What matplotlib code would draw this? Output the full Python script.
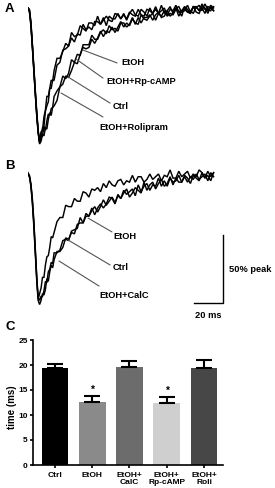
import matplotlib
matplotlib.use('Agg')
import matplotlib.pyplot as plt

plt.rcParams['font.family'] = ['Liberation Sans', 'DejaVu Sans']
plt.rcParams['font.weight'] = 'bold'

W, H, DPI = 275, 488, 100

# ---------------- data: normalised current traces (% of peak) ----------------
time_ms = [0, 1, 2, 3, 4, 5, 6, 7, 8, 9, 10, 11, 12, 13, 14, 15, 16, 17, 18,
           20, 22, 24, 26, 28, 30, 32, 34, 36, 38, 40, 42, 44, 46, 48, 50, 52,
           54, 56, 58, 60, 62, 64, 66, 68, 70, 72, 74, 76, 78, 80, 82, 84, 86,
           88, 90, 92, 94, 96, 98, 100, 102, 104, 106, 108, 110, 112, 114, 116,
           118, 120, 122, 124, 126, 128]

# Panel A
a_etoh = [0, -2, -11, -27, -44, -61, -77, -90, -98,
          -91, -90, -80, -75, -65, -65, -59, -53, -54, -46,
          -37, -37, -32, -26, -28, -18, -21, -20, -13, -15,
          -17, -11, -11, -13, -6, -12, -9, -6, -9, -10,
          -4, -5, -8, -4, -9, -4, -1, -5, -6, -1,
          -3, -6, 0, -4, -1, -4, 2, -4, -2, 1,
          -4, 0, 1, -3, -2, 2, -3, 1, 0, 2,
          -2, 3, -1, -2, 1]
a_rp = [0, -3, -13, -29, -46, -63, -79, -92, -99,
        -96, -88, -87, -76, -72, -69, -59, -59, -53, -53,
        -42, -40, -31, -30, -28, -22, -25, -19, -20, -12,
        -16, -14, -16, -10, -10, -12, -7, -13, -6, -8,
        -8, -4, -8, -5, -8, -3, -5, -6, -1, -5,
        -6, -1, -2, -4, 1, -4, -2, 0, -5, -1,
        -2, 2, -3, -2, 1, -1, -4, 1, 1, -2,
        3, -1, -2, 2, 0]
a_ctrl = [0, -2, -12, -28, -45, -62, -78, -91, -99,
          -95, -94, -87, -90, -83, -78, -79, -74, -73, -65,
          -61, -58, -50, -52, -48, -38, -40, -34, -35, -27,
          -27, -27, -20, -23, -23, -18, -16, -19, -13, -16,
          -15, -17, -11, -11, -14, -12, -7, -12, -7, -11,
          -7, -7, -5, -9, -5, -3, -7, -6, -2, -6,
          -4, 0, -6, -2, -1, -3, -4, 1, -3, -4,
          1, 0, -4, 1, -2]
a_roli = [0, -1, -10, -26, -43, -60, -76, -90, -100,
          -98, -93, -94, -88, -89, -82, -77, -79, -73, -72,
          -68, -58, -56, -50, -51, -46, -40, -41, -34, -29,
          -30, -29, -23, -26, -22, -17, -21, -17, -18, -14,
          -18, -14, -10, -14, -11, -13, -8, -11, -12, -5,
          -8, -9, -6, -4, -9, -4, -6, -2, -6, -4,
          -5, -1, -2, -6, 1, -3, -2, -4, 1, -2,
          0, -4, 1, 0, -2]

# Panel B
b_etoh = [1, -1, -7, -18, -34, -54, -75, -92, -88,
          -84, -76, -76, -67, -61, -60, -54, -46, -47, -43,
          -35, -32, -32, -23, -24, -24, -18, -20, -20, -13,
          -14, -17, -11, -12, -10, -13, -7, -10, -5, -8,
          -9, -5, -4, -8, -5, -6, -1, -6, -2, -2,
          -6, -4, 0, -4, -2, 0, -5, -1, -2, 3,
          -3, -3, 2, -2, 0, 2, -3, 0, -2, 3,
          1, -3, 2, -2, 1]
b_ctrl = [0, -2, -8, -20, -36, -56, -76, -91, -93,
          -90, -90, -86, -79, -80, -72, -70, -65, -66, -58,
          -58, -56, -49, -48, -49, -42, -41, -40, -32, -36,
          -31, -31, -25, -30, -25, -22, -25, -22, -17, -18,
          -22, -15, -18, -14, -11, -17, -14, -10, -12, -14,
          -6, -12, -8, -6, -11, -7, -4, -9, -7, -2,
          -8, -3, -6, -6, -1, -3, -7, -1, -3, -5,
          1, -3, -1, -5, 1]
b_calc = [0, -2, -9, -21, -38, -58, -78, -93, -96,
          -93, -88, -89, -85, -77, -79, -72, -67, -69, -63,
          -57, -57, -54, -47, -48, -43, -44, -37, -36, -36,
          -29, -31, -27, -24, -28, -24, -19, -23, -20, -17,
          -21, -16, -18, -12, -15, -13, -11, -16, -8, -13,
          -9, -7, -12, -8, -9, -3, -9, -5, -9, -3,
          -6, -5, -1, -6, -2, -6, -2, -4, 0, -4,
          -2, 0, -5, 1, -2]

# Panel C: decay time (ms)
bar_labels = ['Ctrl', 'EtOH', 'EtOH+\nCalC', 'EtOH+\nRp-cAMP', 'EtOH+\nRoli']
bar_means = [19.46, 12.53, 19.67, 12.33, 19.47]
bar_sems = [0.8, 1.27, 1.13, 1.33, 1.53]
bar_signif = [False, True, False, True, False]
bar_colors = ['#000000', '#8a8a8a', '#6c6c6c', '#cfcfcf', '#474747']
y_ticks = [0, 5, 10, 15, 20, 25]

for s in (a_etoh, a_rp, a_ctrl, a_roli, b_etoh, b_ctrl, b_calc):
    assert len(s) == len(time_ms)

fig = plt.figure(figsize=(W / DPI, H / DPI), dpi=DPI)
fig.patch.set_facecolor('white')


def px_axes(x0, y0, x1, y1):
    return fig.add_axes([x0 / W, 1 - y1 / H, (x1 - x0) / W, (y1 - y0) / H])


TRACE_KW = dict(color='black', lw=1.05, solid_joinstyle='miter')
LEAD_KW = dict(arrowstyle='-', color='#555555', lw=0.8, shrinkA=0, shrinkB=0)
LBL_KW = dict(fontsize=6.7, fontweight='bold', ha='left', va='center')

# ---------------- Panel A ----------------
axA = px_axes(28, 0, 228, 150)
axA.set_xlim(0, 137.93)
axA.set_ylim(-104.4, 5.88)
axA.axis('off')
for tr in (a_roli, a_ctrl, a_rp, a_etoh):
    axA.plot(time_ms, tr, **TRACE_KW)

leadA = [('EtOH', (37.9, -30.9), (61.4, -40.4), (64.1, -40.4)),
         ('EtOH+Rp-cAMP', (33.1, -37.5), (51.7, -51.5), (53.8, -54.4)),
         ('Ctrl', (27.6, -50.7), (56.6, -69.9), (58.6, -72.1)),
         ('EtOH+Rolipram', (22.8, -62.5), (51.7, -80.1), (49.0, -87.5))]
for txt, p0, p1, pt in leadA:
    axA.annotate('', xy=p0, xytext=p1, arrowprops=LEAD_KW)
    axA.text(pt[0], pt[1], txt, **LBL_KW)

# ---------------- Panel B ----------------
axB = px_axes(28, 165, 228, 315)
axB.set_xlim(0, 137.93)
axB.set_ylim(-103.7, 6.62)
axB.axis('off')
for tr in (b_calc, b_ctrl, b_etoh):
    axB.plot(time_ms, tr, **TRACE_KW)

leadB = [('EtOH', (41.4, -32.4), (57.9, -42.6), (58.6, -46.3)),
         ('Ctrl', (27.6, -48.5), (56.6, -66.9), (58.6, -68.4)),
         ('EtOH+CalC', (21.4, -64.0), (49.0, -82.4), (49.0, -89.0))]
for txt, p0, p1, pt in leadB:
    axB.annotate('', xy=p0, xytext=p1, arrowprops=LEAD_KW)
    axB.text(pt[0], pt[1], txt, **LBL_KW)

# scale bar: 20 ms x 50 % peak
sb_x, sb_y = 134.5, -94.9
axB.plot([sb_x - 20, sb_x, sb_x], [sb_y, sb_y, sb_y + 50], color='black',
         lw=1.0, clip_on=False, solid_joinstyle='miter')
axB.text(sb_x + 4.1, sb_y + 24.3, '50% peak', fontsize=6.7, fontweight='bold',
         ha='left', va='center', clip_on=False)
axB.text(sb_x - 19.3, sb_y - 9.5, '20 ms', fontsize=6.7, fontweight='bold',
         ha='left', va='center', clip_on=False)

# ---------------- Panel C ----------------
axC = px_axes(33, 340, 223, 465)
xs = list(range(len(bar_labels)))
axC.bar(xs, bar_means, width=0.72, color=bar_colors, edgecolor='none', zorder=2)
axC.errorbar(xs, bar_means, yerr=[[0] * len(xs), bar_sems], fmt='none',
             ecolor='black', elinewidth=1.5, capsize=5.5, capthick=1.5, zorder=3)
for i, s in enumerate(bar_signif):
    if s:
        axC.text(xs[i], bar_means[i] + bar_sems[i] + 1.2, '*', ha='center',
                 va='center', fontsize=7.5, fontweight='bold')
axC.set_xlim(-0.59, 4.51)
axC.set_ylim(0, 25)
axC.set_yticks(y_ticks)
axC.set_yticklabels([str(v) for v in y_ticks])
axC.set_xticks(xs)
axC.set_xticklabels(bar_labels, linespacing=1.15)
for sp in ('top', 'right'):
    axC.spines[sp].set_visible(False)
for sp in ('left', 'bottom'):
    axC.spines[sp].set_linewidth(1.2)
axC.tick_params(axis='both', direction='out', length=2.2, width=1.2,
                labelsize=6, pad=1.5)
axC.tick_params(axis='x', pad=2.5)
for lab in axC.get_xticklabels() + axC.get_yticklabels():
    lab.set_fontweight('bold')
axC.set_ylabel('time (ms)', fontsize=7, fontweight='bold')
axC.yaxis.set_label_coords(-0.085, 0.46)

# panel letters
for letter, (px, py) in (('A', (9, 9.5)), ('B', (10, 166)), ('C', (10, 327))):
    fig.text(px / W, 1 - py / H, letter, fontsize=9.5, fontweight='bold',
             ha='center', va='center')

fig.savefig('out.png', dpi=DPI, facecolor='white')
